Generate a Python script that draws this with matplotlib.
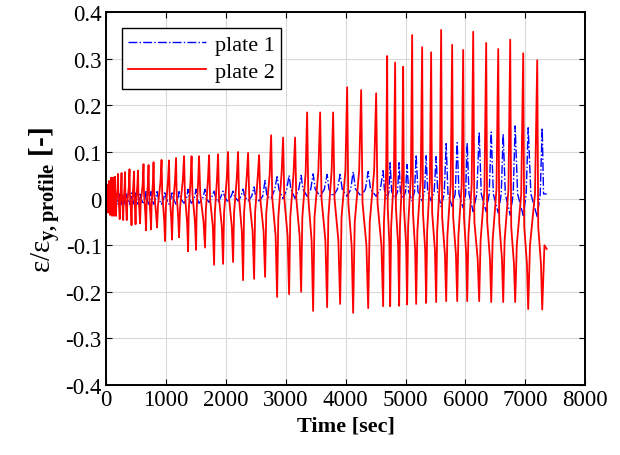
import numpy as np
import matplotlib.pyplot as plt

plt.rcParams["font.family"] = ["Liberation Serif", "DejaVu Serif"]
plt.rcParams["mathtext.fontset"] = "custom"
plt.rcParams["mathtext.rm"] = "Liberation Serif"
plt.rcParams["mathtext.it"] = "Liberation Serif:italic"
plt.rcParams["mathtext.bf"] = "Liberation Serif:bold"

# plate 2: peak of every load cycle
t_max = [17, 50, 84, 117, 150, 200, 259, 317, 392, 468, 534, 626, 710, 793,
         927, 1052, 1169, 1303, 1428, 1553, 1720, 1870, 2037, 2204, 2371, 2555,
         2756, 2956, 3156, 3357, 3574, 3791, 4025, 4259, 4509, 4693, 4826, 4960,
         5110, 5277, 5427, 5594, 5778, 5962, 6129, 6346, 6547, 6747, 6964, 7198]
v_max = [0.030, 0.038, 0.045, 0.045, 0.047, 0.053, 0.055, 0.057, 0.063, 0.058,
         0.060, 0.074, 0.072, 0.078, 0.083, 0.082, 0.087, 0.091, 0.091, 0.091,
         0.093, 0.095, 0.100, 0.100, 0.098, 0.093, 0.136, 0.131, 0.131, 0.185,
         0.185, 0.185, 0.239, 0.233, 0.226, 0.306, 0.292, 0.283, 0.351, 0.325,
         0.314, 0.362, 0.330, 0.319, 0.358, 0.334, 0.321, 0.341, 0.312, 0.297]
t_min = [33, 67, 100, 134, 167, 229, 287, 346, 426, 493, 568, 668, 752, 852,
         985, 1102, 1219, 1370, 1503, 1653, 1804, 1954, 2121, 2288, 2472, 2655,
         2856, 3056, 3257, 3457, 3691, 3908, 4125, 4376, 4626, 4743, 4893, 5026,
         5177, 5344, 5511, 5678, 5862, 6029, 6229, 6430, 6630, 6830, 7047, 7281]
v_min = [-0.030, -0.035, -0.037, -0.037, -0.037, -0.044, -0.046, -0.046, -0.057,
         -0.055, -0.053, -0.068, -0.066, -0.062, -0.091, -0.088, -0.083, -0.113,
         -0.110, -0.105, -0.142, -0.140, -0.136, -0.175, -0.172, -0.168, -0.211,
         -0.205, -0.200, -0.241, -0.233, -0.226, -0.245, -0.235, -0.231, -0.231,
         -0.230, -0.227, -0.226, -0.224, -0.222, -0.220, -0.220, -0.220, -0.220,
         -0.222, -0.222, -0.222, -0.237, -0.238]
t_end, v_end = 7356, -0.108

# plate 1: value at the plate 2 peak (lo) and at the plate 2 trough (hi)
b_lo = [-0.010, -0.010, -0.010, -0.010, -0.010, -0.012, -0.012, -0.012, -0.012,
        -0.012, -0.012, -0.012, -0.012, -0.012, -0.012, -0.012, -0.012, -0.010,
        -0.010, -0.010, -0.008, -0.008, -0.008, -0.005, -0.005, -0.005, 0.000,
        0.000, 0.000, 0.005, 0.005, 0.005, 0.005, 0.005, 0.005, 0.000, 0.000,
        0.000, -0.005, -0.005, -0.005, -0.017, -0.017, -0.020, -0.028, -0.028,
        -0.031, -0.036, -0.036, -0.039]
b_hi = [0.010, 0.010, 0.010, 0.010, 0.010, 0.010, 0.010, 0.010, 0.012, 0.012,
        0.012, 0.015, 0.015, 0.015, 0.015, 0.015, 0.015, 0.020, 0.020, 0.020,
        0.016, 0.016, 0.016, 0.020, 0.025, 0.039, 0.047, 0.050, 0.050, 0.053,
        0.052, 0.052, 0.058, 0.058, 0.060, 0.077, 0.077, 0.073, 0.094, 0.092,
        0.090, 0.118, 0.120, 0.120, 0.143, 0.143, 0.139, 0.156, 0.152, 0.152]

# knee levels of each loading block (5 small cycles, then blocks of 3)
block_size = [5] + [3] * 15
knee_a = [0.0, 0.01, 0.01, 0.01, 0.01, 0.01, 0.0, 0.0, 0.0, 0.0, -0.01, -0.02,
          -0.03, -0.04, -0.05, -0.06]
knee_b = [-0.02, -0.025, -0.03, -0.035, -0.045, -0.05, -0.06, -0.07, -0.08,
          -0.09, -0.10, -0.10, -0.11, -0.12, -0.13, -0.14]
knee_c = [0.0, -0.01, -0.01, -0.015, -0.02, -0.025, -0.03, -0.03, -0.04, -0.04,
          -0.05, -0.06, -0.07, -0.08, -0.09, -0.10]
knee_d = [0.02, 0.025, 0.03, 0.035, 0.04, 0.045, 0.045, 0.05, 0.055, 0.06,
          0.06, 0.05, 0.04, 0.03, 0.02, 0.01]
b_base = [0.0, 0.0, 0.0, 0.0, 0.0, 0.0, 0.005, 0.005, 0.02, 0.02, 0.02, 0.015,
          0.015, 0.01, 0.01, 0.01]

ka = np.repeat(knee_a, block_size)
kb = np.repeat(knee_b, block_size)
kc = np.repeat(knee_c, block_size)
kd = np.repeat(knee_d, block_size)
bb = np.repeat(b_base, block_size)

# build the two traces cycle by cycle
rt, rv = [0.0], [0.0]
bt, bv = [0.0], [0.0]
n = len(t_max)
for i in range(n):
    if i > 0:
        g = t_max[i] - t_min[i - 1]
        rt += [t_min[i - 1] + 0.2 * g, t_min[i - 1] + 0.75 * g]
        rv += [kc[i - 1], kd[i - 1]]
        bt += [t_min[i - 1] + 0.3 * g]
        bv += [bb[i - 1]]
    rt.append(t_max[i]); rv.append(v_max[i])
    bt.append(t_max[i]); bv.append(b_lo[i])
    h = t_min[i] - t_max[i]
    rt += [t_max[i] + 0.2 * h, t_max[i] + 0.75 * h, t_min[i]]
    rv += [ka[i], kb[i], v_min[i]]
    bt += [t_max[i] + 0.6 * h, t_min[i]]
    bv += [bb[i], b_hi[i]]
g = t_end - t_min[-1]
rt += [t_min[-1] + 0.5 * g, t_end]
rv += [kc[-1], v_end]
bt += [t_min[-1] + 0.3 * g, t_end]
bv += [bb[-1], bb[-1]]

fig = plt.figure(figsize=(6.2, 4.56), dpi=100)
ax = fig.add_axes([0.171, 0.1535, 0.773, 0.8175])

ax.plot(bt, bv, color="#0000ff", linestyle="-.", linewidth=1.0, label="plate 1")
ax.plot(rt, rv, color="#ff0000", linewidth=1.3, label="plate 2")

ax.set_xlim(0, 8000)
ax.set_ylim(-0.4, 0.4)
ax.set_xticks(np.arange(0, 8001, 1000))
ax.set_yticks(np.arange(-0.4, 0.41, 0.1))
ax.set_yticklabels(["-0.4", "-0.3", "-0.2", "-0.1", "0", "0.1", "0.2", "0.3", "0.4"])
ax.grid(True, color="#d9d9d9", linewidth=0.8)
ax.set_axisbelow(True)
ax.tick_params(direction="in", top=True, right=True, labelsize=16.5, length=4,
               pad=3)
for s in ax.spines.values():
    s.set_linewidth(1.4)

ax.set_xlabel("Time [sec]", fontsize=16, fontweight="bold", labelpad=4)
ax.set_ylabel("$\\mathrm{ε/ε}_{\\mathbf{y,profile}}$ [-]", fontsize=21,
              fontweight="bold", labelpad=2)

leg = ax.legend(loc="upper left", fontsize=16, fancybox=False, framealpha=1,
                edgecolor="black", borderaxespad=0.7, handlelength=3.5,
                borderpad=0.3, labelspacing=0.3, handletextpad=0.4)
leg.get_frame().set_linewidth(1.0)

fig.savefig("out.png", dpi=100)
